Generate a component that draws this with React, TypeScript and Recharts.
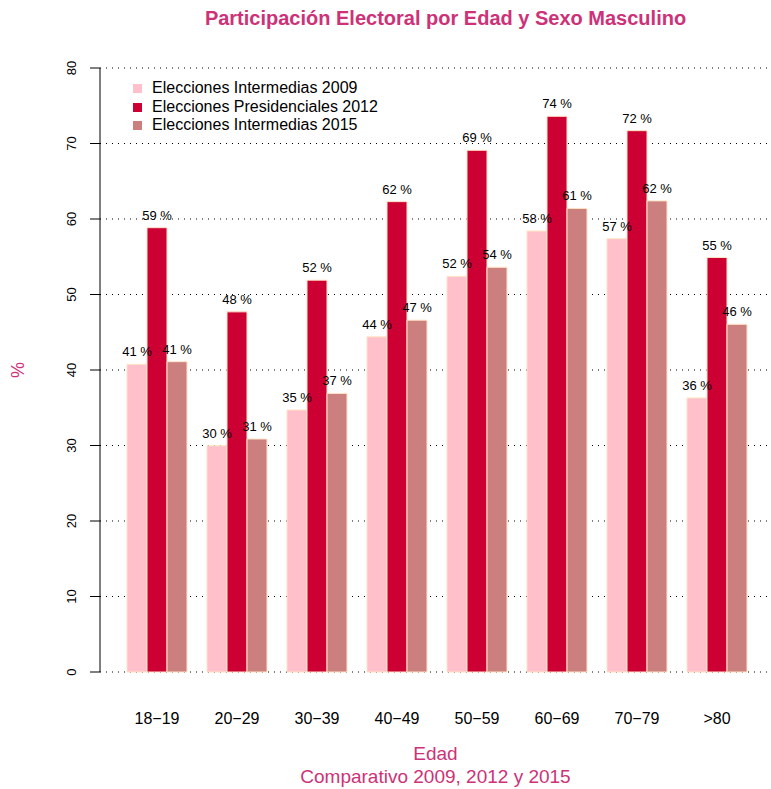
import React from "react"
import { BarChart, Bar, XAxis, YAxis, CartesianGrid, LabelList } from "recharts"

const edades = ["18\u221219", "20\u221229", "30\u221239", "40\u221249", "50\u221259", "60\u221269", "70\u221279", ">80"]
const inter2009 = [40.75, 29.97, 34.7, 44.4, 52.4, 58.4, 57.4, 36.3]
const pres2012 = [58.85, 47.7, 51.9, 62.3, 69.1, 73.6, 71.7, 54.9]
const inter2015 = [41.1, 30.86, 36.9, 46.6, 53.6, 61.4, 62.4, 46.05]
const yTicks = [0, 10, 20, 30, 40, 50, 60, 70, 80]

const series = [
  { key: "i2009", name: "Elecciones Intermedias 2009", color: "#FFC0CB", values: inter2009 },
  { key: "p2012", name: "Elecciones Presidenciales 2012", color: "#CC0033", values: pres2012 },
  { key: "i2015", name: "Elecciones Intermedias 2015", color: "#CC7F7F", values: inter2015 },
]

const data = edades.map((edad, i) => ({
  edad,
  i2009: inter2009[i],
  p2012: pres2012[i],
  i2015: inter2015[i],
}))

const FONT = "'Liberation Sans', Arial, Helvetica, sans-serif"
const PINK = "#CD3278"

const YTick = (props: any) => {
  const { y, payload } = props
  return (
    <text
      x={71}
      y={y}
      transform={`rotate(-90, 71, ${y})`}
      textAnchor="middle"
      dominantBaseline="central"
      fontSize={13}
      fontFamily={FONT}
      fill="#000"
    >
      {payload.value}
    </text>
  )
}

const XTick = (props: any) => {
  const { x, y, payload } = props
  return (
    <text x={x} y={y + 38} textAnchor="middle" dominantBaseline="central" fontSize={16} fontFamily={FONT} fill="#000">
      {payload.value}
    </text>
  )
}

// drawn from the last series so every label sits above all bars of the group;
// the other bars' positions come from this bar's own geometry (same scale, same baseline)
const GroupLabels = (props: any) => {
  const { x, y, width, height, value, index } = props
  const base = y + height
  const pxPerUnit = height / value
  return (
    <g>
      {series.map((s, k) => {
        const v = s.values[index]
        const cx = x - (series.length - 1 - k) * width + width / 2
        return (
          <text key={s.key} x={cx} y={base - v * pxPerUnit - 8} textAnchor="middle" fontSize={13} fontFamily={FONT} fill="#000">
            {`${Math.round(v)} %`}
          </text>
        )
      })}
    </g>
  )
}

export default function App() {
  return (
    <div style={{ position: "absolute", left: 0, top: 0, width: 771, height: 789, background: "#fff", fontFamily: FONT }}>
      <div
        style={{
          position: "absolute", left: 0, width: 771, top: 6, paddingLeft: 120, boxSizing: "border-box",
          textAlign: "center", fontWeight: "bold", fontSize: 20, color: PINK, lineHeight: "24px",
        }}
      >
        Participación Electoral por Edad y Sexo Masculino
      </div>
      <div
        style={{
          position: "absolute", left: 8, top: 360, width: 20, height: 20,
          transform: "rotate(-90deg)", textAlign: "center", color: PINK, fontSize: 18, lineHeight: "20px",
        }}
      >
        %
      </div>
      <BarChart
        width={771}
        height={789}
        data={data}
        margin={{ top: 68, right: 0, bottom: 0, left: 0 }}
        barCategoryGap={10}
        barGap={0}
      >
        <CartesianGrid horizontal vertical={false} stroke="#000" strokeDasharray="1 5" />
        <XAxis
          dataKey="edad"
          axisLine={false}
          tickLine={false}
          tick={<XTick />}
          height={117}
          padding={{ left: 17, right: 14 }}
          interval={0}
        />
        <YAxis
          domain={[0, 80]}
          ticks={yTicks}
          width={100}
          tickSize={10}
          axisLine={{ stroke: "#000" }}
          tickLine={{ stroke: "#000" }}
          tick={<YTick />}
        />
        {series.map((s, k) => (
          <Bar key={s.key} dataKey={s.key} name={s.name} fill={s.color} stroke="#FFE4C4" strokeWidth={1} isAnimationActive={false}>
            {k === series.length - 1 && <LabelList dataKey={s.key} content={<GroupLabels />} />}
          </Bar>
        ))}
      </BarChart>
      <div style={{ position: "absolute", left: 133, top: 79, fontSize: 16, lineHeight: "18.7px", color: "#000" }}>
        {series.map((s) => (
          <div key={s.key} style={{ display: "flex", alignItems: "center", whiteSpace: "nowrap" }}>
            <span style={{ width: 9, height: 9, background: s.color, display: "inline-block", marginRight: 10 }} />
            {s.name}
          </div>
        ))}
      </div>
      <div style={{ position: "absolute", left: 100, width: 671, top: 742, textAlign: "center", color: PINK, fontSize: 19, lineHeight: "23px" }}>
        Edad
        <br />
        Comparativo 2009, 2012 y 2015
      </div>
    </div>
  )
}
